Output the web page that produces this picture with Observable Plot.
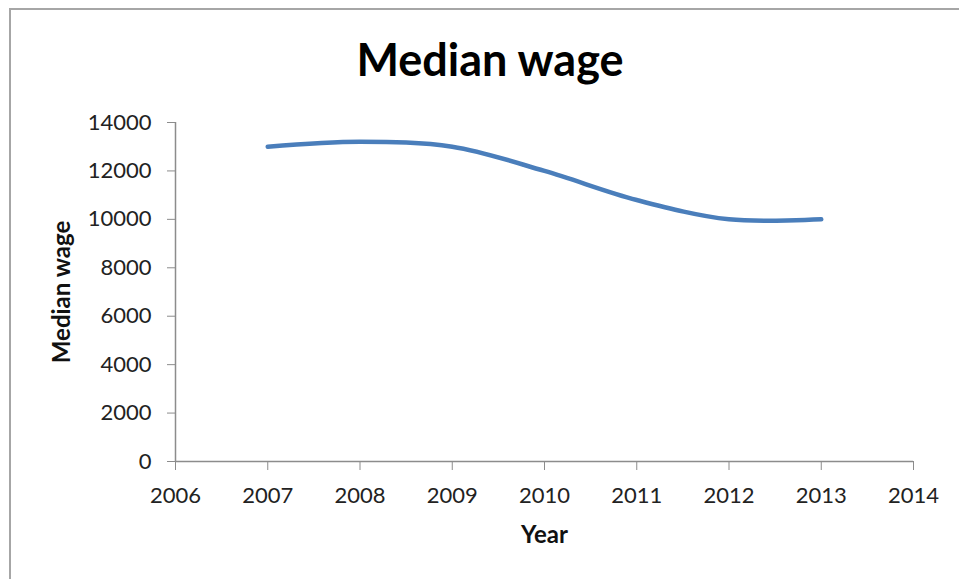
<!DOCTYPE html>
<html>
<head>
<meta charset="utf-8">
<script src="https://cdn.jsdelivr.net/npm/d3@7"></script>
<script src="https://cdn.jsdelivr.net/npm/@observablehq/plot@0.6"></script>
<style>
  html, body { margin: 0; padding: 0; background: #fff; overflow: hidden; }
  #wrap { position: relative; width: 959px; height: 579px; font-family: Lato, "Open Sans", sans-serif; }
  #frame { position: absolute; left: 9px; top: 8px; width: 1000px; height: 600px; border: 2px solid #a6a6a6; box-sizing: border-box; }
  #title { position: absolute; left: 0; top: 37px; width: 980px; text-align: center; font-size: 45px; font-weight: 700; color: #000; line-height: 1; }
  #chart { position: absolute; left: 0; top: 0; }
</style>
</head>
<body>
<div id="wrap">
  <div id="frame"></div>
  <div id="chart"></div>
  <div id="title">Median wage</div>
</div>
<script>
const years = [2007, 2008, 2009, 2010, 2011, 2012, 2013];
const wages = [13000, 13200, 13000, 12000, 10800, 10000, 10000];
const xTicks = [2006, 2007, 2008, 2009, 2010, 2011, 2012, 2013, 2014];
const yTicks = [0, 2000, 4000, 6000, 8000, 10000, 12000, 14000];

const data = years.map((y, i) => ({year: y, wage: wages[i]}));

const plot = Plot.plot({
  width: 959,
  height: 579,
  marginLeft: 175,
  marginRight: 46,
  marginTop: 122,
  marginBottom: 118,
  style: {fontFamily: "Lato, 'Open Sans', sans-serif", fontSize: "22px", color: "#222", background: "transparent"},
  x: {domain: [2006, 2014], ticks: xTicks, tickFormat: d => String(d), label: null},
  y: {domain: [0, 14000], ticks: yTicks, tickFormat: d => String(d), label: null},
  marks: [
    Plot.ruleY([0], {stroke: "#8c8c8c", strokeWidth: 1.5}),
    Plot.ruleX([2006], {stroke: "#8c8c8c", strokeWidth: 1.5}),
    Plot.axisX({ticks: xTicks, tickFormat: d => String(d), tickSize: 9, tickPadding: 17, stroke: "#8c8c8c", fill: "#222", label: null}),
    Plot.axisY({ticks: yTicks, tickFormat: d => String(d), tickSize: 8, tickPadding: 16, stroke: "#8c8c8c", fill: "#222", label: null}),
    Plot.line(data, {x: "year", y: "wage", curve: "catmull-rom", stroke: "#4a7ebb", strokeWidth: 4.5, strokeLinecap: "round"}),
    Plot.text(["Year"], {frameAnchor: "bottom", dy: 81, fontWeight: "bold", fontSize: 24, fill: "#111"}),
    Plot.text(["Median wage"], {frameAnchor: "left", textAnchor: "middle", dx: -113, rotate: -90, fontWeight: "bold", fontSize: 24, fill: "#111"})
  ]
});
document.getElementById("chart").appendChild(plot);
</script>
</body>
</html>
